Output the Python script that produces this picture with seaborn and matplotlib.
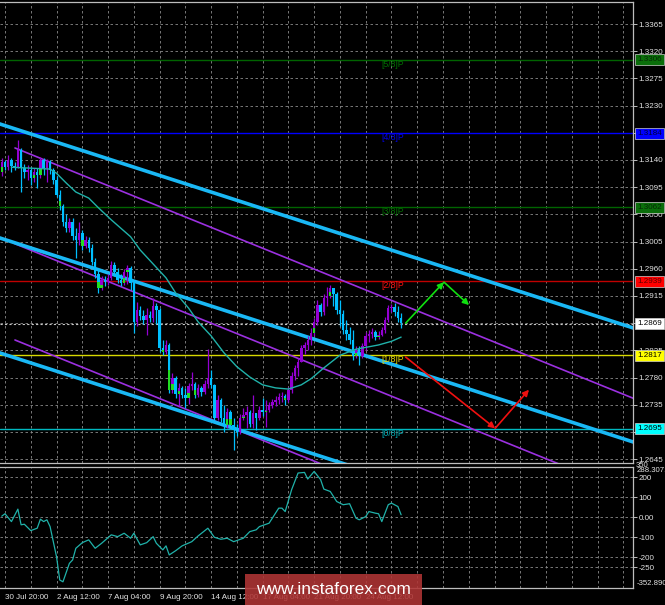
import matplotlib
matplotlib.use("Agg")
import matplotlib.pyplot as plt
from matplotlib.patches import Rectangle
from matplotlib.transforms import blended_transform_factory
import numpy as np
import pandas as pd
import seaborn as sns

# ---- data (GBP/USD 4H, bar 0 = 30 Jul 20:00) ----
bar_idx = list(range(-1, 124))
first_open = 1.3120
close = [1.3137, 1.3128, 1.3140, 1.3130, 1.3128, 1.3157, 1.3127, 1.3120, 1.3123, 1.3110,
         1.3120, 1.3115, 1.3140, 1.3127, 1.3137, 1.3123, 1.3107, 1.3082, 1.3064, 1.3037,
         1.3027, 1.3037, 1.3014, 1.3008, 1.3019, 1.2998, 1.3008, 1.2995, 1.2971, 1.2951,
         1.2928, 1.2941, 1.2938, 1.2945, 1.2966, 1.2955, 1.2941, 1.2936, 1.2955, 1.2961,
         1.2936, 1.2872, 1.2892, 1.2882, 1.2875, 1.2883, 1.2878, 1.2898, 1.2892, 1.2829,
         1.2822, 1.2834, 1.2760, 1.2780, 1.2753, 1.2763, 1.2751, 1.2746, 1.2766, 1.2770,
         1.2751, 1.2763, 1.2756, 1.2770, 1.2780, 1.2768, 1.2713, 1.2743, 1.2713, 1.2702,
         1.2723, 1.2702, 1.2693, 1.2690, 1.2713, 1.2718, 1.2723, 1.2703, 1.2721, 1.2713,
         1.2726, 1.2723, 1.2726, 1.2735, 1.2740, 1.2743, 1.2748, 1.2750, 1.2743, 1.2760,
         1.2783, 1.2796, 1.2806, 1.2829, 1.2834, 1.2842, 1.2854, 1.2872, 1.2900, 1.2888,
         1.2912, 1.2915, 1.2928, 1.2918, 1.2892, 1.2885, 1.2859, 1.2852, 1.2842, 1.2816,
         1.2827, 1.2816, 1.2832, 1.2849, 1.2852, 1.2855, 1.2847, 1.2850, 1.2859, 1.2875,
         1.2895, 1.2897, 1.2888, 1.2878, 1.2870]
high = [1.3143, 1.3140, 1.3148, 1.3143, 1.3137, 1.3173, 1.3160, 1.3133, 1.3132, 1.3128,
        1.3127, 1.3127, 1.3145, 1.3143, 1.3142, 1.3140, 1.3127, 1.3113, 1.3090, 1.3067,
        1.3050, 1.3044, 1.3044, 1.3027, 1.3037, 1.3024, 1.3014, 1.3013, 1.3001, 1.2978,
        1.2961, 1.2948, 1.2948, 1.2951, 1.2973, 1.2971, 1.2961, 1.2951, 1.2960, 1.2966,
        1.2965, 1.2941, 1.2905, 1.2898, 1.2892, 1.2895, 1.2890, 1.2912, 1.2903, 1.2895,
        1.2842, 1.2842, 1.2837, 1.2788, 1.2783, 1.2771, 1.2766, 1.2763, 1.2771, 1.2789,
        1.2773, 1.2770, 1.2766, 1.2776, 1.2827, 1.2793, 1.2770, 1.2751, 1.2746, 1.2735,
        1.2730, 1.2726, 1.2713, 1.2703, 1.2720, 1.2730, 1.2733, 1.2726, 1.2751, 1.2721,
        1.2733, 1.2746, 1.2743, 1.2740, 1.2745, 1.2750, 1.2755, 1.2756, 1.2753, 1.2765,
        1.2789, 1.2801, 1.2812, 1.2834, 1.2839, 1.2849, 1.2862, 1.2878, 1.2908, 1.2903,
        1.2918, 1.2930, 1.2933, 1.2928, 1.2922, 1.2908, 1.2892, 1.2875, 1.2863, 1.2859,
        1.2832, 1.2832, 1.2837, 1.2855, 1.2859, 1.2862, 1.2859, 1.2857, 1.2863, 1.2880,
        1.2900, 1.2902, 1.2903, 1.2898, 1.2887]
low = [1.3113, 1.3123, 1.3123, 1.3120, 1.3123, 1.3127, 1.3087, 1.3110, 1.3107, 1.3099,
       1.3104, 1.3094, 1.3110, 1.3115, 1.3104, 1.3117, 1.3100, 1.3079, 1.3057, 1.3031,
       1.3021, 1.3021, 1.3008, 1.2978, 1.3000, 1.2991, 1.2995, 1.2988, 1.2966, 1.2945,
       1.2920, 1.2925, 1.2931, 1.2933, 1.2941, 1.2948, 1.2936, 1.2931, 1.2933, 1.2935,
       1.2925, 1.2854, 1.2865, 1.2875, 1.2869, 1.2850, 1.2872, 1.2872, 1.2869, 1.2822,
       1.2817, 1.2819, 1.2755, 1.2755, 1.2746, 1.2733, 1.2746, 1.2730, 1.2736, 1.2760,
       1.2746, 1.2748, 1.2750, 1.2753, 1.2763, 1.2763, 1.2710, 1.2710, 1.2707, 1.2690,
       1.2697, 1.2697, 1.2660, 1.2683, 1.2687, 1.2710, 1.2697, 1.2698, 1.2697, 1.2693,
       1.2710, 1.2716, 1.2698, 1.2723, 1.2730, 1.2733, 1.2736, 1.2740, 1.2735, 1.2740,
       1.2755, 1.2776, 1.2783, 1.2806, 1.2819, 1.2825, 1.2834, 1.2849, 1.2867, 1.2882,
       1.2883, 1.2898, 1.2912, 1.2898, 1.2885, 1.2865, 1.2852, 1.2842, 1.2835, 1.2809,
       1.2812, 1.2801, 1.2812, 1.2825, 1.2839, 1.2845, 1.2842, 1.2844, 1.2849, 1.2854,
       1.2872, 1.2888, 1.2882, 1.2872, 1.2862]
green_bars = [-1, 9, 11, 17, 24, 29, 30, 37, 38, 49, 51, 52, 54, 57, 59, 69, 70, 74,
              81, 87, 96, 101, 109, 116]

# moving average
ma_idx = [2, 14, 16, 19, 22, 26, 29, 33, 39, 42, 46, 50, 53, 57, 60, 64, 68, 72, 76,
          80, 84, 88, 92, 95, 99, 104, 109, 112, 116, 120, 123]
ma_val = [1.3128, 1.3125, 1.3118, 1.3102, 1.3087, 1.3077, 1.3061, 1.3041, 1.3013, 1.2991,
          1.2968, 1.2945, 1.2920, 1.2895, 1.2872, 1.2849, 1.2821, 1.2798, 1.2781, 1.2768,
          1.2763, 1.2761, 1.2768, 1.2778, 1.2796, 1.2817, 1.2827, 1.2830, 1.2834, 1.2840,
          1.2847]

# CCI
cci_idx = [-1, 0, 2, 4, 5, 6, 8, 10, 11, 12, 13, 14, 16, 17, 18, 20, 21, 22, 24, 26,
           28, 30, 33, 35, 37, 39, 40, 42, 44, 46, 47, 49, 50, 51, 53, 55, 58, 60, 63, 65,
           67, 69, 71, 74, 76, 78, 79, 82, 83, 85, 86, 87, 89, 91, 93, 94, 96, 98, 99, 101,
           103, 105, 107, 109, 110, 112, 113, 115, 116, 117, 119, 120, 122, 123]
cci_val = [5, 17, -22, 40, -38, -35, -67, -55, -10, -22, -13, -47, -197, -313, -322, -230,
           -213, -155, -127, -113, -155, -130, -88, -97, -80, -105, -80, -138, -127, -97,
           -130, -163, -143, -188, -167, -143, -122, -93, -55, -100, -110, -105, -122, -105,
           -72, -63, -47, -30, -5, 45, 45, 28, 137, 220, 223, 190, 228, 187, 140, 128,
           78, 62, 67, -5, -13, 3, 28, 20, 17, -22, 62, 70, 53, 12]

# channels: (start index, start price, end index, end price)
blue_channel = [(-2, 1.32003, 196, 1.28605),
                (-2, 1.30117, 196, 1.26719),
                (-2, 1.28215, 196, 1.24817)]
purple_channel = [(3.1, 1.31599, 196, 1.27438),
                  (3.1, 1.30014, 196, 1.25853),
                  (3.1, 1.28422, 196, 1.24261)]

# Murrey levels
level_price = [1.3306, 1.3184, 1.3062, 1.2939, 1.2817, 1.2695]
level_name = ["[5/8]P", "[4/8]P", "[3/8]P", "[2/8]P", "[1/8]P", "[0/8]P"]
level_line = ["#006400", "#0000ff", "#006400", "#c00000", "#d8d800", "#00b8c0"]
level_text = ["#007000", "#0000f0", "#007000", "#ff1010", "#e8d800", "#00b0b8"]
level_box = ["#0a6e0a", "#0000ff", "#0a6e0a", "#ff0000", "#ffff00", "#00ffff"]
level_box_txt = ["#042a04", "#00003a", "#042a04", "#5a0000", "#000000", "#000000"]
last_price = 1.2869

# forecast arrows
green_path_x = [124.4, 136.3, 144.1]
green_path_y = [1.2870, 1.2938, 1.2900]
red_path_x = [124.4, 152.2, 162.7]
red_path_y = [1.2814, 1.2696, 1.2760]

price_ticks = [1.2645, 1.2690, 1.2735, 1.2780, 1.2825, 1.2870, 1.2915, 1.2960, 1.3005,
               1.3050, 1.3095, 1.3140, 1.3185, 1.3230, 1.3275, 1.3320, 1.3365]
grid_idx = list(range(0, 200, 8))
date_labels = {0: "30 Jul 20:00", 16: "2 Aug 12:00", 32: "7 Aug 04:00", 48: "9 Aug 20:00",
               64: "14 Aug 12:00", 80: "17 Aug 04:00", 96: "21 Aug 20:00", 112: "24 Aug 12:00"}
cci_ticks = [200, 100, 0, -100, -200, -250]
cci_tick_labels = ["200", "100", "0.00", "-100", "-200", "-250"]

BLUE = "#00bfff"
PURPLE = "#9400d3"
LIME = "#22dd22"
GRID = "#8a8a8a"
FRAME = "#bdbdbd"
TXT = "#e4e4e4"

sns.set_style("dark")
plt.rcParams['font.family'] = ['Liberation Sans', 'DejaVu Sans']

W, H = 665, 605
fig = plt.figure(figsize=(W / 100, H / 100), dpi=100, facecolor="black")
ax = fig.add_axes([0, (H - 463) / H, 633 / W, (463 - 2) / H])
ax2 = fig.add_axes([0, (H - 588) / H, 633 / W, (588 - 467) / H])

for a in (ax, ax2):
    a.set_facecolor("black")
    a.set_axisbelow(True)
    a.grid(True, color=GRID, lw=0.6, ls=(0, (3, 3)))
    a.set_xlim(-1.55, 195.0)
    a.set_xticks(grid_idx)
    a.spines["left"].set_visible(False)
    for s in ("top", "right", "bottom"):
        a.spines[s].set_color(FRAME)
        a.spines[s].set_linewidth(0.9)
    a.yaxis.tick_right()
    a.tick_params(axis="y", colors=FRAME, labelcolor=TXT, labelsize=5.8,
                  length=3, width=0.7, pad=1)

# ---- main panel ----
ax.set_ylim(1.26387, 1.34014)
ax.set_yticks(price_ticks)
ax.set_yticklabels([f"{v:.4f}" for v in price_ticks])
ax.set_xticklabels([])
ax.tick_params(axis="x", length=0)

for p, lc in zip(level_price, level_line):
    ax.axhline(p, color=lc, lw=1.0, zorder=1.5)
ax.axhline(last_price, color="#c8c8c8", lw=0.8, ls=(0, (2, 2)), zorder=1.5)

for x0, y0, x1, y1 in purple_channel:
    ax.plot([x0, x1], [y0, y1], color="#9b30e0", lw=1.2, zorder=2.2)
for x0, y0, x1, y1 in blue_channel:
    ax.plot([x0, x1], [y0, y1], color="#1ab8f5", lw=2.6, zorder=2.3, solid_capstyle="butt")

df = pd.DataFrame({"idx": bar_idx, "open": [first_open] + close[:-1],
                   "high": high, "low": low, "close": close})
up = df["close"] >= df["open"]
colors = np.where(up, PURPLE, BLUE)
body_lo = np.minimum(df["open"], df["close"])
body_h = np.maximum((df["close"] - df["open"]).abs(), 0.00007)
ax.vlines(df["idx"], df["low"], df["high"], colors=colors, lw=0.9, zorder=3)
ax.bar(df["idx"], body_h, bottom=body_lo, width=0.76, color=colors, lw=0, zorder=4)
g = df["idx"].isin(green_bars)
ax.bar(df.loc[g, "idx"], body_h[g] * 0.45, bottom=body_lo[g], width=0.76,
       color=LIME, lw=0, zorder=4.5)

sns.lineplot(x=ma_idx, y=ma_val, ax=ax, color="#20b2aa", lw=1.0, zorder=5)

for xs, ys, c in ((green_path_x, green_path_y, "#10e010"), (red_path_x, red_path_y, "#f01010")):
    for k in range(len(xs) - 1):
        ax.annotate("", xy=(xs[k + 1], ys[k + 1]), xytext=(xs[k], ys[k]),
                    arrowprops=dict(arrowstyle="-|>", color=c, lw=1.2,
                                    mutation_scale=9, shrinkA=0, shrinkB=0),
                    zorder=6)

for p, name, tc in zip(level_price, level_name, level_text):
    ax.text(120.5, p, name, color=tc, fontsize=6.2, ha="center", va="top", zorder=6)

tr = blended_transform_factory(ax.transAxes, ax.transData)
box_prices = level_price + [last_price]
box_fc = level_box + ["#ffffff"]
box_tc = level_box_txt + ["#000000"]
for p, fc, tc in zip(box_prices, box_fc, box_tc):
    ax.text(1.0065, p, f"{p:.4f}", transform=tr, fontsize=5.8, color=tc, ha="left",
            va="center", clip_on=False, zorder=10,
            bbox=dict(boxstyle="square,pad=0.25", fc=fc, ec="#d0d0d0", lw=0.5))

# ---- CCI panel ----
ax2.set_ylim(-352.89, 250)
ax2.set_yticks(cci_ticks)
ax2.set_yticklabels(cci_tick_labels)
ax2.set_xticklabels([date_labels.get(i, "") for i in grid_idx])
ax2.tick_params(axis="x", colors=FRAME, labelcolor=TXT, labelsize=5.8, length=2, pad=2)
for t in ax2.get_xticklabels():
    t.set_ha("left")
sns.lineplot(x=cci_idx, y=cci_val, ax=ax2, color="#20b2aa", lw=0.9)
tr2 = blended_transform_factory(ax2.transAxes, ax2.transData)
for val, txt in ((255, "350"), (233, "288.3071"), (-330, "-352.890")):
    ax2.text(1.0050, val, txt, transform=tr2, fontsize=5.6, color=TXT, ha="left",
             va="center", clip_on=False)

# ---- watermark ----
fig.patches.append(Rectangle((245 / W, 0), 177 / W, 31 / H, transform=fig.transFigure,
                             fc="#b03535", alpha=0.88, ec="none", zorder=20))
fig.text(333.5 / W, 15.5 / H, "www.instaforex.com", color="white", fontsize=12.5,
         ha="center", va="center", zorder=21)

fig.savefig("out.png", dpi=100, facecolor="black")
